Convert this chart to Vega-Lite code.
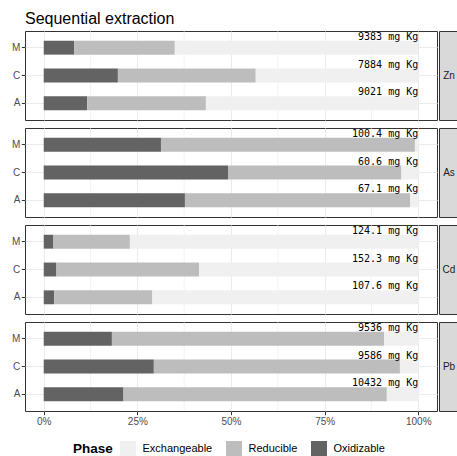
{
  "$schema": "https://vega.github.io/schema/vega-lite/v6.json",
  "padding": {"left": 10, "right": 0, "top": 11, "bottom": 0},
  "title": {"text": "Sequential extraction", "anchor": "start", "fontSize": 16, "fontWeight": "normal", "color": "#000000", "font": "Liberation Sans", "offset": 3, "dx": 14},
  "datasets": {
    "fractions": [
      {"metal": "Zn", "sample": "M", "phase": "Oxidizable", "step": 3, "share": 0.081},
      {"metal": "Zn", "sample": "M", "phase": "Reducible", "step": 2, "share": 0.269},
      {"metal": "Zn", "sample": "M", "phase": "Exchangeable", "step": 1, "share": 0.650},
      {"metal": "Zn", "sample": "C", "phase": "Oxidizable", "step": 3, "share": 0.198},
      {"metal": "Zn", "sample": "C", "phase": "Reducible", "step": 2, "share": 0.368},
      {"metal": "Zn", "sample": "C", "phase": "Exchangeable", "step": 1, "share": 0.434},
      {"metal": "Zn", "sample": "A", "phase": "Oxidizable", "step": 3, "share": 0.116},
      {"metal": "Zn", "sample": "A", "phase": "Reducible", "step": 2, "share": 0.317},
      {"metal": "Zn", "sample": "A", "phase": "Exchangeable", "step": 1, "share": 0.567},
      {"metal": "As", "sample": "M", "phase": "Oxidizable", "step": 3, "share": 0.313},
      {"metal": "As", "sample": "M", "phase": "Reducible", "step": 2, "share": 0.678},
      {"metal": "As", "sample": "M", "phase": "Exchangeable", "step": 1, "share": 0.009},
      {"metal": "As", "sample": "C", "phase": "Oxidizable", "step": 3, "share": 0.492},
      {"metal": "As", "sample": "C", "phase": "Reducible", "step": 2, "share": 0.463},
      {"metal": "As", "sample": "C", "phase": "Exchangeable", "step": 1, "share": 0.045},
      {"metal": "As", "sample": "A", "phase": "Oxidizable", "step": 3, "share": 0.377},
      {"metal": "As", "sample": "A", "phase": "Reducible", "step": 2, "share": 0.601},
      {"metal": "As", "sample": "A", "phase": "Exchangeable", "step": 1, "share": 0.022},
      {"metal": "Cd", "sample": "M", "phase": "Oxidizable", "step": 3, "share": 0.026},
      {"metal": "Cd", "sample": "M", "phase": "Reducible", "step": 2, "share": 0.204},
      {"metal": "Cd", "sample": "M", "phase": "Exchangeable", "step": 1, "share": 0.770},
      {"metal": "Cd", "sample": "C", "phase": "Oxidizable", "step": 3, "share": 0.034},
      {"metal": "Cd", "sample": "C", "phase": "Reducible", "step": 2, "share": 0.381},
      {"metal": "Cd", "sample": "C", "phase": "Exchangeable", "step": 1, "share": 0.585},
      {"metal": "Cd", "sample": "A", "phase": "Oxidizable", "step": 3, "share": 0.028},
      {"metal": "Cd", "sample": "A", "phase": "Reducible", "step": 2, "share": 0.262},
      {"metal": "Cd", "sample": "A", "phase": "Exchangeable", "step": 1, "share": 0.710},
      {"metal": "Pb", "sample": "M", "phase": "Oxidizable", "step": 3, "share": 0.182},
      {"metal": "Pb", "sample": "M", "phase": "Reducible", "step": 2, "share": 0.727},
      {"metal": "Pb", "sample": "M", "phase": "Exchangeable", "step": 1, "share": 0.091},
      {"metal": "Pb", "sample": "C", "phase": "Oxidizable", "step": 3, "share": 0.294},
      {"metal": "Pb", "sample": "C", "phase": "Reducible", "step": 2, "share": 0.657},
      {"metal": "Pb", "sample": "C", "phase": "Exchangeable", "step": 1, "share": 0.049},
      {"metal": "Pb", "sample": "A", "phase": "Oxidizable", "step": 3, "share": 0.213},
      {"metal": "Pb", "sample": "A", "phase": "Reducible", "step": 2, "share": 0.703},
      {"metal": "Pb", "sample": "A", "phase": "Exchangeable", "step": 1, "share": 0.084}
    ],
    "totals": [
      {"metal": "Zn", "sample": "M", "label": "9383 mg Kg"},
      {"metal": "Zn", "sample": "C", "label": "7884 mg Kg"},
      {"metal": "Zn", "sample": "A", "label": "9021 mg Kg"},
      {"metal": "As", "sample": "M", "label": "100.4 mg Kg"},
      {"metal": "As", "sample": "C", "label": "60.6 mg Kg"},
      {"metal": "As", "sample": "A", "label": "67.1 mg Kg"},
      {"metal": "Cd", "sample": "M", "label": "124.1 mg Kg"},
      {"metal": "Cd", "sample": "C", "label": "152.3 mg Kg"},
      {"metal": "Cd", "sample": "A", "label": "107.6 mg Kg"},
      {"metal": "Pb", "sample": "M", "label": "9536 mg Kg"},
      {"metal": "Pb", "sample": "C", "label": "9586 mg Kg"},
      {"metal": "Pb", "sample": "A", "label": "10432 mg Kg"}
    ],
    "metals": [{"metal": "Zn"}, {"metal": "As"}, {"metal": "Cd"}, {"metal": "Pb"}],
    "minorGrid": [{"pos": 0.125}, {"pos": 0.375}, {"pos": 0.625}, {"pos": 0.875}]
  },
  "vconcat": [
    {"hconcat": [
      {"width": 412, "height": 89, "view": {"stroke": "#333333"},
       "layer": [
        {"data": {"name": "minorGrid"}, "mark": {"type": "rule", "color": "#ebebeb", "strokeWidth": 0.6},
         "encoding": {"x": {"field": "pos", "type": "quantitative", "scale": {"domain": [-0.05, 1.05], "nice": false, "zero": false},
           "axis": {"values": [0, 0.25, 0.5, 0.75, 1], "grid": true, "labels": false, "ticks": false, "title": null}}}},
        {"data": {"name": "fractions"}, "transform": [{"filter": "datum.metal === 'Zn'"}], "mark": {"type": "bar"},
         "encoding": {
          "y": {"field": "sample", "type": "nominal", "sort": ["M", "C", "A"], "scale": {"paddingInner": 0.5, "paddingOuter": 0.35}, "axis": {"grid": true, "bandPosition": 0.5, "title": null}},
          "x": {"field": "share", "type": "quantitative", "stack": "zero", "scale": {"domain": [-0.05, 1.05], "nice": false, "zero": false}},
          "color": {"field": "phase", "type": "nominal", "scale": {"domain": ["Exchangeable", "Reducible", "Oxidizable"], "range": ["#f0f0f0", "#bdbdbd", "#636363"]}, "legend": {"title": "Phase"}},
          "order": {"field": "step", "sort": "descending"}}},
        {"data": {"name": "totals"}, "transform": [{"filter": "datum.metal === 'Zn'"}],
         "mark": {"type": "text", "align": "right", "baseline": "alphabetic", "dy": -8, "font": "DejaVu Sans Mono", "fontSize": 10, "color": "#000000"},
         "encoding": {
          "y": {"field": "sample", "type": "nominal", "sort": ["M", "C", "A"]},
          "x": {"datum": 1, "type": "quantitative", "scale": {"domain": [-0.05, 1.05], "nice": false, "zero": false}},
          "text": {"field": "label"}}}
       ]},
      {"width": 20, "height": 89, "view": {"fill": "#d9d9d9", "stroke": "#333333"},
       "data": {"name": "metals"}, "transform": [{"filter": "datum.metal === 'Zn'"}],
       "mark": {"type": "text", "fontSize": 10, "color": "#1a1a1a", "font": "Liberation Sans"},
       "encoding": {"text": {"field": "metal"}}}
    ]},
    {"hconcat": [
      {"width": 412, "height": 89, "view": {"stroke": "#333333"},
       "layer": [
        {"data": {"name": "minorGrid"}, "mark": {"type": "rule", "color": "#ebebeb", "strokeWidth": 0.6},
         "encoding": {"x": {"field": "pos", "type": "quantitative", "scale": {"domain": [-0.05, 1.05], "nice": false, "zero": false},
           "axis": {"values": [0, 0.25, 0.5, 0.75, 1], "grid": true, "labels": false, "ticks": false, "title": null}}}},
        {"data": {"name": "fractions"}, "transform": [{"filter": "datum.metal === 'As'"}], "mark": {"type": "bar"},
         "encoding": {
          "y": {"field": "sample", "type": "nominal", "sort": ["M", "C", "A"], "scale": {"paddingInner": 0.5, "paddingOuter": 0.35}, "axis": {"grid": true, "bandPosition": 0.5, "title": null}},
          "x": {"field": "share", "type": "quantitative", "stack": "zero", "scale": {"domain": [-0.05, 1.05], "nice": false, "zero": false}},
          "color": {"field": "phase", "type": "nominal", "scale": {"domain": ["Exchangeable", "Reducible", "Oxidizable"], "range": ["#f0f0f0", "#bdbdbd", "#636363"]}, "legend": {"title": "Phase"}},
          "order": {"field": "step", "sort": "descending"}}},
        {"data": {"name": "totals"}, "transform": [{"filter": "datum.metal === 'As'"}],
         "mark": {"type": "text", "align": "right", "baseline": "alphabetic", "dy": -8, "font": "DejaVu Sans Mono", "fontSize": 10, "color": "#000000"},
         "encoding": {
          "y": {"field": "sample", "type": "nominal", "sort": ["M", "C", "A"]},
          "x": {"datum": 1, "type": "quantitative", "scale": {"domain": [-0.05, 1.05], "nice": false, "zero": false}},
          "text": {"field": "label"}}}
       ]},
      {"width": 20, "height": 89, "view": {"fill": "#d9d9d9", "stroke": "#333333"},
       "data": {"name": "metals"}, "transform": [{"filter": "datum.metal === 'As'"}],
       "mark": {"type": "text", "fontSize": 10, "color": "#1a1a1a", "font": "Liberation Sans"},
       "encoding": {"text": {"field": "metal"}}}
    ]},
    {"hconcat": [
      {"width": 412, "height": 89, "view": {"stroke": "#333333"},
       "layer": [
        {"data": {"name": "minorGrid"}, "mark": {"type": "rule", "color": "#ebebeb", "strokeWidth": 0.6},
         "encoding": {"x": {"field": "pos", "type": "quantitative", "scale": {"domain": [-0.05, 1.05], "nice": false, "zero": false},
           "axis": {"values": [0, 0.25, 0.5, 0.75, 1], "grid": true, "labels": false, "ticks": false, "title": null}}}},
        {"data": {"name": "fractions"}, "transform": [{"filter": "datum.metal === 'Cd'"}], "mark": {"type": "bar"},
         "encoding": {
          "y": {"field": "sample", "type": "nominal", "sort": ["M", "C", "A"], "scale": {"paddingInner": 0.5, "paddingOuter": 0.35}, "axis": {"grid": true, "bandPosition": 0.5, "title": null}},
          "x": {"field": "share", "type": "quantitative", "stack": "zero", "scale": {"domain": [-0.05, 1.05], "nice": false, "zero": false}},
          "color": {"field": "phase", "type": "nominal", "scale": {"domain": ["Exchangeable", "Reducible", "Oxidizable"], "range": ["#f0f0f0", "#bdbdbd", "#636363"]}, "legend": {"title": "Phase"}},
          "order": {"field": "step", "sort": "descending"}}},
        {"data": {"name": "totals"}, "transform": [{"filter": "datum.metal === 'Cd'"}],
         "mark": {"type": "text", "align": "right", "baseline": "alphabetic", "dy": -8, "font": "DejaVu Sans Mono", "fontSize": 10, "color": "#000000"},
         "encoding": {
          "y": {"field": "sample", "type": "nominal", "sort": ["M", "C", "A"]},
          "x": {"datum": 1, "type": "quantitative", "scale": {"domain": [-0.05, 1.05], "nice": false, "zero": false}},
          "text": {"field": "label"}}}
       ]},
      {"width": 20, "height": 89, "view": {"fill": "#d9d9d9", "stroke": "#333333"},
       "data": {"name": "metals"}, "transform": [{"filter": "datum.metal === 'Cd'"}],
       "mark": {"type": "text", "fontSize": 10, "color": "#1a1a1a", "font": "Liberation Sans"},
       "encoding": {"text": {"field": "metal"}}}
    ]},
    {"hconcat": [
      {"width": 412, "height": 89, "view": {"stroke": "#333333"},
       "layer": [
        {"data": {"name": "minorGrid"}, "mark": {"type": "rule", "color": "#ebebeb", "strokeWidth": 0.6},
         "encoding": {"x": {"field": "pos", "type": "quantitative", "scale": {"domain": [-0.05, 1.05], "nice": false, "zero": false},
           "axis": {"values": [0, 0.25, 0.5, 0.75, 1], "grid": true, "format": ".0%", "title": null}}}},
        {"data": {"name": "fractions"}, "transform": [{"filter": "datum.metal === 'Pb'"}], "mark": {"type": "bar"},
         "encoding": {
          "y": {"field": "sample", "type": "nominal", "sort": ["M", "C", "A"], "scale": {"paddingInner": 0.5, "paddingOuter": 0.35}, "axis": {"grid": true, "bandPosition": 0.5, "title": null}},
          "x": {"field": "share", "type": "quantitative", "stack": "zero", "scale": {"domain": [-0.05, 1.05], "nice": false, "zero": false}},
          "color": {"field": "phase", "type": "nominal", "scale": {"domain": ["Exchangeable", "Reducible", "Oxidizable"], "range": ["#f0f0f0", "#bdbdbd", "#636363"]}, "legend": {"title": "Phase"}},
          "order": {"field": "step", "sort": "descending"}}},
        {"data": {"name": "totals"}, "transform": [{"filter": "datum.metal === 'Pb'"}],
         "mark": {"type": "text", "align": "right", "baseline": "alphabetic", "dy": -8, "font": "DejaVu Sans Mono", "fontSize": 10, "color": "#000000"},
         "encoding": {
          "y": {"field": "sample", "type": "nominal", "sort": ["M", "C", "A"]},
          "x": {"datum": 1, "type": "quantitative", "scale": {"domain": [-0.05, 1.05], "nice": false, "zero": false}},
          "text": {"field": "label"}}}
       ]},
      {"width": 20, "height": 89, "view": {"fill": "#d9d9d9", "stroke": "#333333"},
       "data": {"name": "metals"}, "transform": [{"filter": "datum.metal === 'Pb'"}],
       "mark": {"type": "text", "fontSize": 10, "color": "#1a1a1a", "font": "Liberation Sans"},
       "encoding": {"text": {"field": "metal"}}}
    ]}
  ],
  "spacing": 6,
  "config": {
    "font": "Liberation Sans",
    "concat": {"spacing": 0},
    "axis": {"labelFont": "Liberation Sans", "labelFontSize": 10, "labelColor": "#4d4d4d", "tickColor": "#333333", "tickSize": 3.7, "labelPadding": 1.5, "gridColor": "#ebebeb", "gridWidth": 1, "domain": false},
    "legend": {"orient": "none", "legendX": 48, "legendY": 410, "direction": "horizontal", "titleOrient": "left", "titleFontSize": 13.5, "titleFontWeight": "bold", "titleColor": "#000000", "labelFontSize": 11, "labelColor": "#000000", "symbolType": "square", "symbolSize": 256, "symbolStrokeWidth": 0, "columnPadding": 13, "labelOffset": 6.5, "titlePadding": 7}
  }
}
